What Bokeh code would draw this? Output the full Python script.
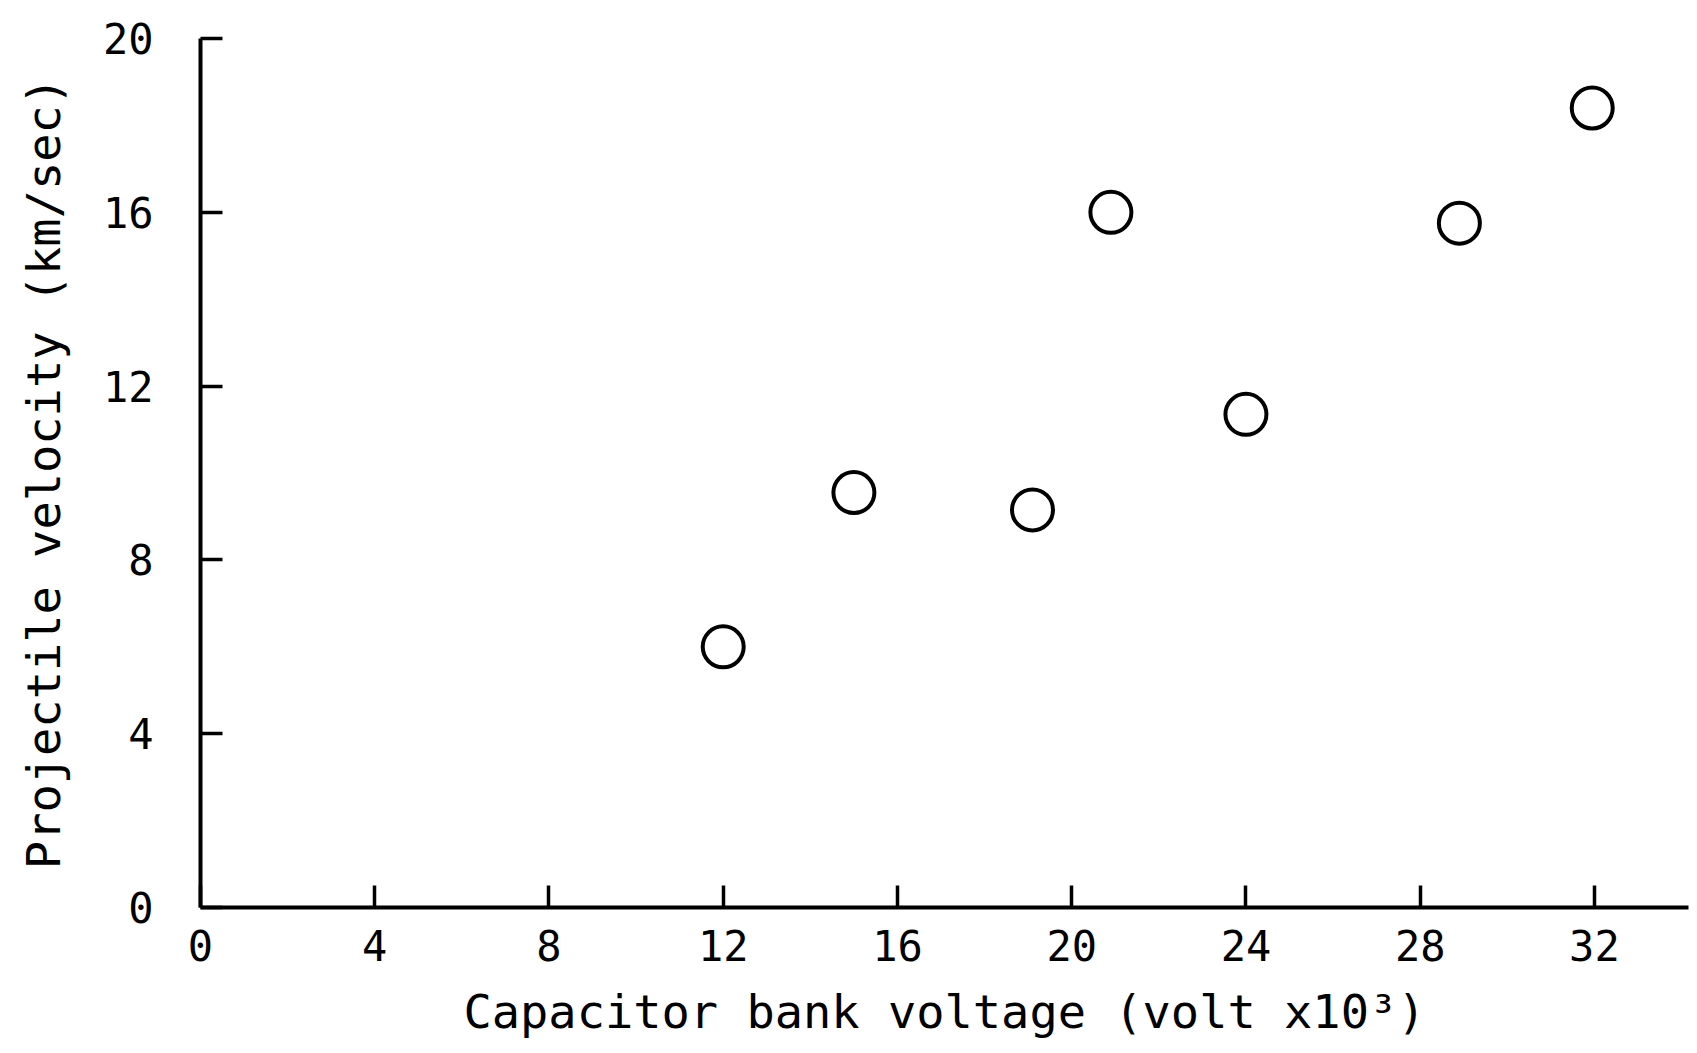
from bokeh.plotting import figure
from bokeh.models import Range1d, FixedTicker
from bokeh.embed import file_html
from bokeh.resources import INLINE

# ---- data ----
voltage_kv = [12, 15, 19.1, 20.9, 24, 28.9, 31.95]
velocity_kms = [6.0, 9.55, 9.15, 16.0, 11.35, 15.75, 18.4]
x_ticks = [0, 4, 8, 12, 16, 20, 24, 28, 32]
y_ticks = [0, 4, 8, 12, 16, 20]
x_title = "Capacitor bank voltage (volt x10³)"
y_title = "Projectile velocity (km/sec)"

FONT = "DejaVu Sans Mono"

p = figure(width=1689, height=1053, output_backend="svg", toolbar_location=None,
           title_location=None,
           x_range=Range1d(0, 34.16), y_range=Range1d(0, 20),
           min_border_left=200, min_border_right=1,
           min_border_top=38, min_border_bottom=146)

p.background_fill_color = "white"
p.border_fill_color = "white"
p.outline_line_color = None
p.grid.visible = False

for ax in (p.xaxis[0], p.yaxis[0]):
    ax.axis_line_width = 4
    ax.axis_line_color = "black"
    ax.major_tick_in = 22
    ax.major_tick_out = 0
    ax.major_tick_line_width = 3.5
    ax.major_tick_line_color = "black"
    ax.minor_tick_line_color = None
    ax.major_label_text_font = FONT
    ax.major_label_text_font_size = "42px"
    ax.major_label_text_color = "black"
    ax.axis_label_text_font = FONT
    ax.axis_label_text_font_size = "47px"
    ax.axis_label_text_font_style = "normal"
    ax.axis_label_text_color = "black"

p.xaxis.ticker = FixedTicker(ticks=x_ticks)
p.yaxis.ticker = FixedTicker(ticks=y_ticks)
p.xaxis.major_label_standoff = 22
p.yaxis.major_label_standoff = 47

p.xaxis.axis_label = x_title
p.xaxis.axis_label_standoff = 20
p.yaxis.axis_label = y_title
p.yaxis.axis_label_standoff = 29

p.scatter(voltage_kv, velocity_kms, marker="circle", size=41,
          fill_color=None, line_color="black", line_width=4)

open("out.html", "w").write(file_html(p, INLINE))
